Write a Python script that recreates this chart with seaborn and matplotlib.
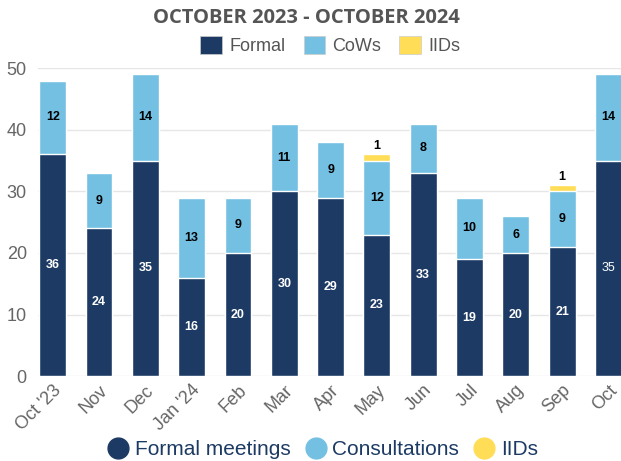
import matplotlib.pyplot as plt
import numpy as np
import pandas as pd
import seaborn as sns
from matplotlib.lines import Line2D
from matplotlib.patches import Patch

months = ["Oct '23", "Nov", "Dec", "Jan '24", "Feb", "Mar", "Apr",
          "May", "Jun", "Jul", "Aug", "Sep", "Oct"]
formal = [36, 24, 35, 16, 20, 30, 29, 23, 33, 19, 20, 21, 35]
cows = [12, 9, 14, 13, 9, 11, 9, 12, 8, 10, 6, 9, 14]
iids = [0, 0, 0, 0, 0, 0, 0, 1, 0, 0, 0, 1, 0]

NAVY = '#1c3a63'
LIGHT = '#74c0e3'
YELLOW = '#ffdd57'

sns.set_style('white')
plt.rcParams['font.family'] = ['Liberation Sans', 'DejaVu Sans']

df = pd.DataFrame({'month': months, 'formal': formal, 'cows': cows, 'iids': iids})
df['fc'] = df['formal'] + df['cows']
df['total'] = df['fc'] + df['iids']

fig = plt.figure(figsize=(6.21, 4.61), dpi=100)
ax = fig.add_axes([0.061, 0.184, 0.939, 0.668])

# stacked bars: draw cumulative totals back to front
sns.barplot(data=df, x='month', y='total', color=YELLOW, width=0.58, saturation=1, ax=ax)
sns.barplot(data=df, x='month', y='fc', color=LIGHT, width=0.58, saturation=1, ax=ax)
sns.barplot(data=df, x='month', y='formal', color=NAVY, width=0.58, saturation=1, ax=ax)

for i, row in df.iterrows():
    ax.text(i, row['formal'] / 2, str(row['formal']), ha='center', va='center',
            color='white', fontsize=9, fontweight='normal' if i == 12 else 'bold')
    ax.text(i, row['formal'] + row['cows'] / 2, str(row['cows']), ha='center', va='center',
            color='black', fontsize=9, fontweight='bold')
    if row['iids'] > 0:
        ax.text(i, row['total'] + 1.3, str(row['iids']), ha='center', va='center',
                color='black', fontsize=9, fontweight='bold')

ax.set_xlim(-0.32, 12.27)
ax.set_ylim(0, 50)
ax.set_yticks(range(0, 51, 10))
ax.yaxis.grid(True, color='#e6e6e6', linewidth=1)
ax.set_axisbelow(True)
sns.despine(ax=ax, left=True, bottom=True, right=True, top=True)
ax.set_xlabel('')
ax.set_ylabel('')
ax.tick_params(axis='y', labelsize=13, colors='#666666', length=0, pad=8)
ax.tick_params(axis='x', labelsize=13, colors='#666666', length=0, pad=4)
plt.setp(ax.get_xticklabels(), rotation=45, ha='right', rotation_mode='anchor')

fig.text(0.494, 0.961, 'OCTOBER 2023 - OCTOBER 2024', ha='center', va='center',
         fontsize=14.5, fontweight='bold', color='#555555', family=['Open Sans', 'DejaVu Sans'])

top_handles = [Patch(facecolor=NAVY, edgecolor='#cccccc', linewidth=0.5),
               Patch(facecolor=LIGHT, edgecolor='#cccccc', linewidth=0.5),
               Patch(facecolor=YELLOW, edgecolor='#cccccc', linewidth=0.5)]
fig.legend(top_handles, ['Formal', 'CoWs', 'IIDs'], loc='center', bbox_to_anchor=(0.532, 0.902),
           ncol=3, frameon=False, fontsize=13, labelcolor='#555555',
           handlelength=1.2, handleheight=1.2, handletextpad=0.4, columnspacing=1.0)

bottom_handles = [Line2D([], [], marker='o', linestyle='', markersize=15, color=c)
                  for c in (NAVY, LIGHT, YELLOW)]
fig.legend(bottom_handles, ['Formal meetings', 'Consultations', 'IIDs'], loc='center',
           bbox_to_anchor=(0.52, 0.024), ncol=3, frameon=False, fontsize=15,
           labelcolor=NAVY, handlelength=1.0, handletextpad=0.3, columnspacing=0.7)

fig.savefig('out.png', dpi=100)
